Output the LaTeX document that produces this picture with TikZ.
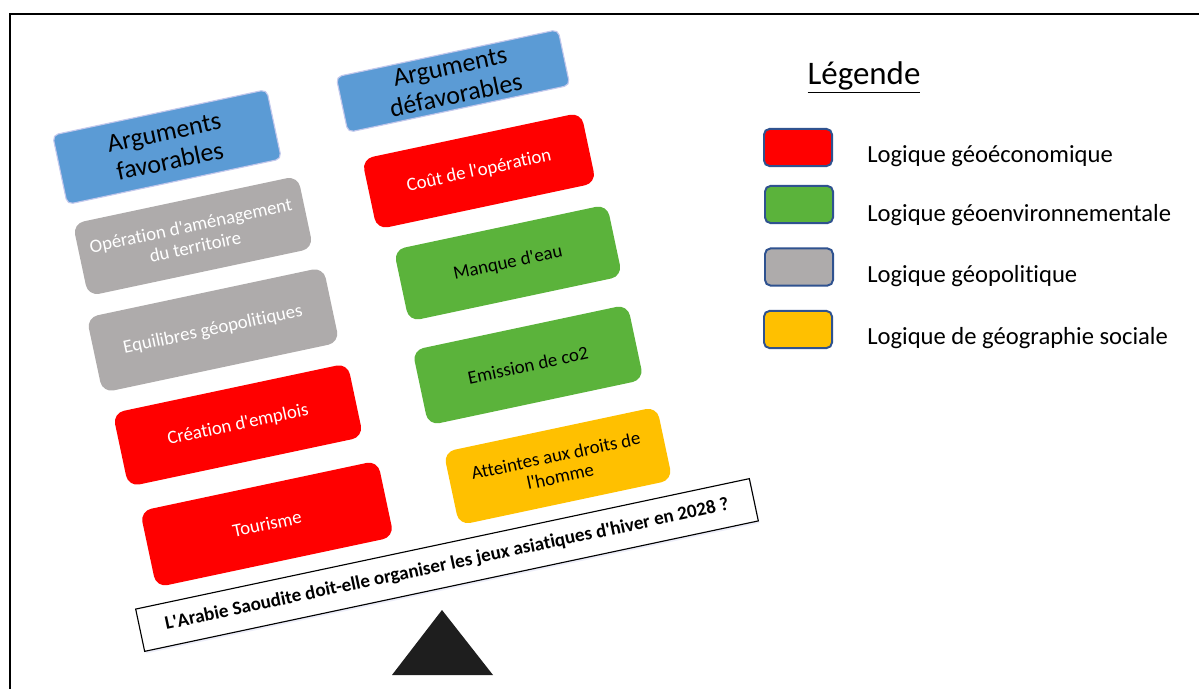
\documentclass[tikz,border=0pt]{standalone}
\usepackage{fontspec}
\setmainfont{Carlito}[Ligatures = {TeX, NoCommon}]
\usepackage{tikz}
\usetikzlibrary{shadows}
\definecolor{ecoRed}{HTML}{FF0000}
\definecolor{envGreen}{HTML}{5BB33B}
\definecolor{polGray}{HTML}{AEABAB}
\definecolor{socYellow}{HTML}{FFC000}
\definecolor{hdrBlue}{HTML}{5B9BD5}
\definecolor{hdrGlow}{HTML}{C3C8EC}
\definecolor{swatchLine}{HTML}{2F528F}
\definecolor{triBlack}{HTML}{1E1E1E}
\newcommand{\argfont}{\fontsize{13.4}{15.2}\selectfont}
\newcommand{\hdrfont}{\fontsize{18.5}{20.6}\selectfont}
\newcommand{\legfont}{\fontsize{17.5}{20}\selectfont}
\newcommand{\legtitlefont}{\fontsize{23.4}{26}\selectfont}
\newcommand{\qfont}{\fontsize{13.6}{15}\selectfont\bfseries}
\newcommand{\ap}{\textquotesingle}
\tikzset{
  argbox/.style = {rotate = 12, rounded corners = 8pt, align = center, inner sep = 1pt, font = \argfont},
  hdrbox/.style = {rotate = 12, rounded corners = 4pt, fill = hdrBlue, draw = hdrGlow, line width = 0.8pt, align = center, inner sep = 0pt, font = \hdrfont},
  swatch/.style = {rounded corners = 4pt, draw = swatchLine, line width = 1.4pt, minimum width = 1.70cm, minimum height = 0.93cm},
  leglabel/.style = {anchor = base west, inner sep = 0pt, font = \legfont}
}

\begin{document}
\begin{tikzpicture}[x = 0.025cm, y = -0.025cm]
\useasboundingbox (0, 0) rectangle (1199, 689);
\draw[line width = 1.8pt] (10, 689) -- (10, 14) -- (1199, 14);

\begin{scope}
\node[hdrbox, minimum width = 5.47cm, minimum height = 1.77cm] (favHdr) at (167, 147) {Arguments\\favorables};
\node[argbox, fill = polGray, text = white, minimum width = 5.75cm, minimum height = 1.85cm] (amenag) at (193, 236) {Opération d\ap aménagement\\du territoire};
\node[argbox, fill = polGray, text = white, minimum width = 6.05cm, minimum height = 1.92cm] (equil) at (213, 330) {Equilibres géopolitiques};
\node[argbox, fill = ecoRed, text = white, minimum width = 6.0cm, minimum height = 1.88cm] (emplois) at (238, 425) {Création d\ap emplois};
\node[argbox, fill = ecoRed, text = white, minimum width = 6.07cm, minimum height = 1.95cm] (tourisme) at (267, 524) {Tourisme};
\end{scope}

\begin{scope}
\node[hdrbox, minimum width = 5.67cm, minimum height = 1.42cm] (defHdr) at (453, 81) {Arguments\\défavorables};
\node[argbox, fill = ecoRed, text = white, minimum width = 5.6cm, minimum height = 1.8cm] (cout) at (479, 171) {Coût de l\ap opération};
\node[argbox, fill = envGreen, text = black, minimum width = 5.45cm, minimum height = 1.83cm] (eau) at (508, 263) {Manque d\ap eau};
\node[argbox, fill = envGreen, text = black, minimum width = 5.5cm, minimum height = 1.92cm] (co2) at (528, 365) {Emission de co2};
\node[argbox, fill = socYellow, text = black, minimum width = 5.45cm, minimum height = 1.87cm] (droits) at (558, 466) {Atteintes aux droits de\\l\ap homme};
\end{scope}

\node[rotate = 12, draw, fill = white, line width = 0.8pt, inner sep = 0pt, minimum width = 15.68cm, minimum height = 1.08cm, font = \qfont, drop shadow = {shadow xshift = 1pt, shadow yshift = -1.5pt, opacity = 0.3, fill = hdrGlow}] (question) at (447, 565) {L\ap Arabie Saoudite doit-elle organiser les jeux asiatiques d\ap hiver en 2028 ?};
\fill[triBlack] (392, 675) -- (442, 610) -- (493, 675) -- cycle;

\node[anchor = base, inner sep = 0pt, font = \legtitlefont] (legTitle) at (864, 85) {\underline{Légende}};
\node[swatch, fill = ecoRed] (swEco) at (798, 147.5) {};
\node[swatch, fill = envGreen] (swEnv) at (799, 204.5) {};
\node[swatch, fill = polGray] (swPol) at (799, 267) {};
\node[swatch, fill = socYellow] (swSoc) at (798, 329.5) {};
\node[leglabel] (labEco) at (867, 163) {Logique géoéconomique};
\node[leglabel] (labEnv) at (867, 222) {Logique géoenvironnementale};
\node[leglabel] (labPol) at (867, 283) {Logique géopolitique};
\node[leglabel] (labSoc) at (867, 344) {Logique de géographie sociale};
\end{tikzpicture}
\end{document}
